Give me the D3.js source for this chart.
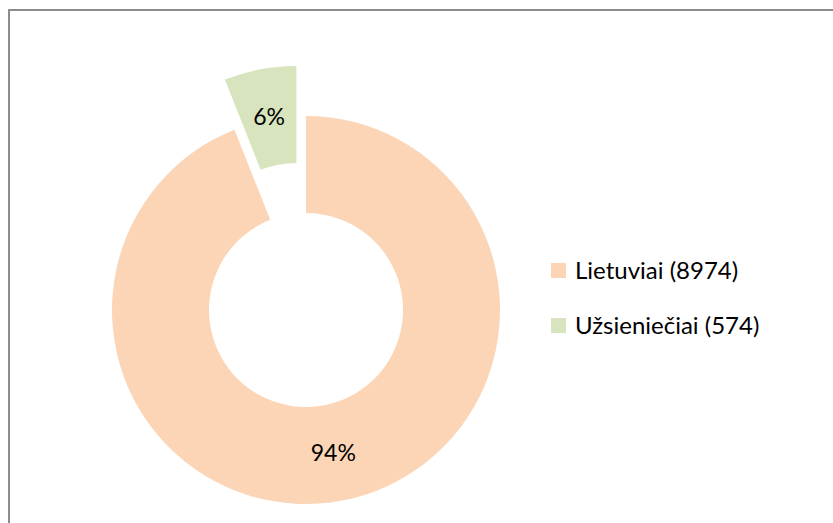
<!DOCTYPE html>
<html>
<head>
<meta charset="utf-8">
<script src="https://cdn.jsdelivr.net/npm/d3@7"></script>
<style>
  body { margin: 0; background: #fff; }
  svg { display: block; }
  text { font-family: Lato, "Open Sans", sans-serif; fill: #000; }
</style>
</head>
<body>
<div id="chart"></div>
<script>
const categories = ["Lietuviai", "Užsieniečiai"];
const values = [8974, 574];
const percentLabels = ["94%", "6%"];
const colors = ["#FBD5B5", "#D7E4BD"];
const exploded = [false, true];

const width = 833, height = 523;
const cx = 306, cy = 310;
const outerRadius = 194, innerRadius = 97;
const explodeOffset = 51;

const svg = d3.select("#chart").append("svg")
    .attr("width", width)
    .attr("height", height);

// chart frame (right and bottom edges fall outside the picture)
svg.append("rect")
    .attr("x", 9).attr("y", 10)
    .attr("width", 830).attr("height", 530)
    .attr("fill", "none")
    .attr("stroke", "#8c8c8c")
    .attr("stroke-width", 2);

const pie = d3.pie().sort(null).value(d => d)(values);
const arc = d3.arc().innerRadius(innerRadius).outerRadius(outerRadius);

const g = svg.append("g").attr("transform", `translate(${cx},${cy})`);

const slices = g.selectAll("g.slice")
    .data(pie)
    .join("g")
    .attr("class", "slice")
    .attr("transform", (d, i) => {
        if (!exploded[i]) return null;
        const mid = (d.startAngle + d.endAngle) / 2;
        return `translate(${explodeOffset * Math.sin(mid)},${-explodeOffset * Math.cos(mid)})`;
    });

slices.append("path")
    .attr("d", arc)
    .attr("fill", (d, i) => colors[i]);

slices.append("text")
    .attr("transform", d => `translate(${arc.centroid(d)})`)
    .attr("text-anchor", "middle")
    .attr("dy", "0.35em")
    .attr("font-size", "23px")
    .text((d, i) => percentLabels[i]);

// legend
const legend = svg.append("g").attr("transform", "translate(551,263)");
const items = legend.selectAll("g")
    .data(categories)
    .join("g")
    .attr("transform", (d, i) => `translate(0,${i * 55})`);

items.append("rect")
    .attr("width", 15).attr("height", 15)
    .attr("fill", (d, i) => colors[i]);

items.append("text")
    .attr("x", 24)
    .attr("y", 7.5)
    .attr("dy", "0.36em")
    .attr("font-size", "24px")
    .text((d, i) => `${d} (${values[i]})`);
</script>
</body>
</html>
